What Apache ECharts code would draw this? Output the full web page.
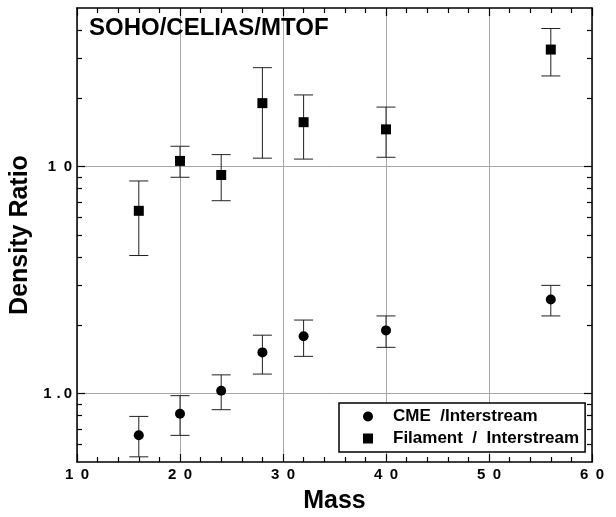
<!DOCTYPE html>
<html>
<head>
<meta charset="utf-8">
<script src="https://cdn.jsdelivr.net/npm/echarts@6/dist/echarts.min.js"></script>
<style>
  html, body { margin: 0; padding: 0; background: #fff; }
  #main { width: 616px; height: 517px; }
</style>
</head>
<body>
<div id="main"></div>
<script>
// masses
var mass = [16, 20, 24, 28, 32, 40, 56];

// CME / Interstream
var cme = [0.656, 0.816, 1.03, 1.52, 1.79, 1.90, 2.60];
var cmeLow = [0.527, 0.655, 0.85, 1.22, 1.46, 1.60, 2.20];
var cmeHigh = [0.794, 0.98, 1.21, 1.81, 2.11, 2.20, 3.0];

// Filament / Interstream
var fil = [6.39, 10.6, 9.19, 19.05, 15.7, 14.6, 32.8];
var filLow = [4.06, 8.98, 7.08, 10.9, 10.8, 11.0, 25.1];
var filHigh = [8.65, 12.3, 11.3, 27.3, 20.7, 18.3, 40.6];

// tick values / labels (letter-spaced like the original)
var xTickLabels = { 10: '1\u20020', 20: '2\u20020', 30: '3\u20020', 40: '4\u20020', 50: '5\u20020', 60: '6\u20020' };
var yMajor = [1, 10];
var yMinor = [0.6, 0.7, 0.8, 0.9, 2, 3, 4, 5, 6, 7, 8, 9, 20, 30, 40];
var yTickLabels = { 1: '1\u2004.\u20090', 10: '1\u20020' };

var FONT = 'Arial, "Liberation Sans", Helvetica, sans-serif';

function pairs(xs, ys) {
  return xs.map(function (x, i) { return [x, ys[i]]; });
}
function triples(xs, lo, hi) {
  return xs.map(function (x, i) { return [x, lo[i], hi[i]]; });
}

function renderErr(params, api) {
  var x = api.value(0);
  var lo = api.coord([x, api.value(1)]);
  var hi = api.coord([x, api.value(2)]);
  var w = 9.5;
  var st = { stroke: '#222', lineWidth: 1 };
  return {
    type: 'group',
    children: [
      { type: 'line', shape: { x1: lo[0], y1: lo[1], x2: hi[0], y2: hi[1] }, style: st },
      { type: 'line', shape: { x1: lo[0] - w, y1: lo[1], x2: lo[0] + w, y2: lo[1] }, style: st },
      { type: 'line', shape: { x1: hi[0] - w, y1: hi[1], x2: hi[0] + w, y2: hi[1] }, style: st }
    ]
  };
}

function xAxisOf(pos, main) {
  return {
    type: 'value',
    position: pos,
    min: 10,
    max: 60,
    interval: 10,
    axisLine: { show: true, lineStyle: { color: '#000', width: 1.5 } },
    axisTick: { show: true, inside: true, length: 8, lineStyle: { color: '#000', width: 1.2 } },
    minorTick: { show: true, splitNumber: 5, length: 5, lineStyle: { color: '#000', width: 1.2 } },
    splitLine: { show: main, lineStyle: { color: '#a8a8a8', width: 1 } },
    axisLabel: {
      show: main,
      margin: 5,
      color: '#000',
      fontSize: 15,
      fontWeight: 'bold',
      fontFamily: FONT,
      formatter: function (v) { return xTickLabels[Math.round(v)] || ''; }
    },
    name: main ? 'Mass' : '',
    nameLocation: 'middle',
    nameGap: 27,
    nameTextStyle: { color: '#000', fontSize: 25, fontWeight: 'bold', fontFamily: FONT }
  };
}

function yAxisOf(pos, ticks, len, main, line) {
  return {
    type: 'log',
    logBase: 10,
    position: pos,
    min: 0.5,
    max: 50,
    splitNumber: 2,
    axisLine: { show: line, lineStyle: { color: '#000', width: 1.5 } },
    axisTick: { show: true, inside: true, length: len, customValues: ticks, lineStyle: { color: '#000', width: 1.2 } },
    splitLine: { show: main, lineStyle: { color: '#a8a8a8', width: 1 } },
    axisLabel: {
      show: main,
      customValues: yMajor,
      margin: 5,
      color: '#000',
      fontSize: 15,
      fontWeight: 'bold',
      fontFamily: FONT,
      formatter: function (v) { return yTickLabels[Math.round(v)] || ''; }
    },
    name: main ? 'Density Ratio' : '',
    nameLocation: 'middle',
    nameGap: 42,
    nameTextStyle: { color: '#000', fontSize: 25, fontWeight: 'bold', fontFamily: FONT }
  };
}

var chart = echarts.init(document.getElementById('main'), null, { renderer: 'canvas' });

chart.setOption({
  backgroundColor: '#fff',
  animation: false,
  title: {
    text: 'SOHO/CELIAS/MTOF',
    left: 89,
    top: 16,
    padding: 0,
    textStyle: { color: '#000', fontSize: 24, fontWeight: 'bold', fontFamily: FONT }
  },
  grid: { left: 77, right: 24, top: 8, bottom: 55, outerBoundsMode: 'none', containLabel: false },
  legend: {
    data: [
      { name: 'CME  /Interstream', icon: 'circle' },
      { name: 'Filament  /  Interstream', icon: 'path://M0,0L10,0L10,10L0,10Z' }
    ],
    orient: 'vertical',
    left: 339,
    top: 403,
    padding: [5, 6, 5, 24],
    itemGap: 5,
    itemWidth: 40,
    itemHeight: 10,
    borderColor: '#000',
    borderWidth: 1.5,
    backgroundColor: '#fff',
    textStyle: { color: '#000', fontSize: 17, fontWeight: 'bold', fontFamily: FONT }
  },
  xAxis: [xAxisOf('bottom', true), xAxisOf('top', false)],
  yAxis: [
    yAxisOf('left', yMajor, 8, true, true),
    yAxisOf('right', yMajor, 8, false, true),
    yAxisOf('left', yMinor, 5, false, false),
    yAxisOf('right', yMinor, 5, false, false)
  ],
  series: [
    {
      name: 'cmeErr',
      type: 'custom',
      renderItem: renderErr,
      data: triples(mass, cmeLow, cmeHigh),
      encode: { x: 0, y: [1, 2] },
      z: 2,
      silent: true
    },
    {
      name: 'filErr',
      type: 'custom',
      renderItem: renderErr,
      data: triples(mass, filLow, filHigh),
      encode: { x: 0, y: [1, 2] },
      z: 2,
      silent: true
    },
    {
      name: 'CME  /Interstream',
      type: 'scatter',
      symbol: 'circle',
      symbolSize: 10,
      itemStyle: { color: '#000', opacity: 1 },
      data: pairs(mass, cme),
      z: 3
    },
    {
      name: 'Filament  /  Interstream',
      type: 'scatter',
      symbol: 'rect',
      symbolSize: 10,
      itemStyle: { color: '#000', opacity: 1 },
      data: pairs(mass, fil),
      z: 3
    }
  ]
});
</script>
</body>
</html>
